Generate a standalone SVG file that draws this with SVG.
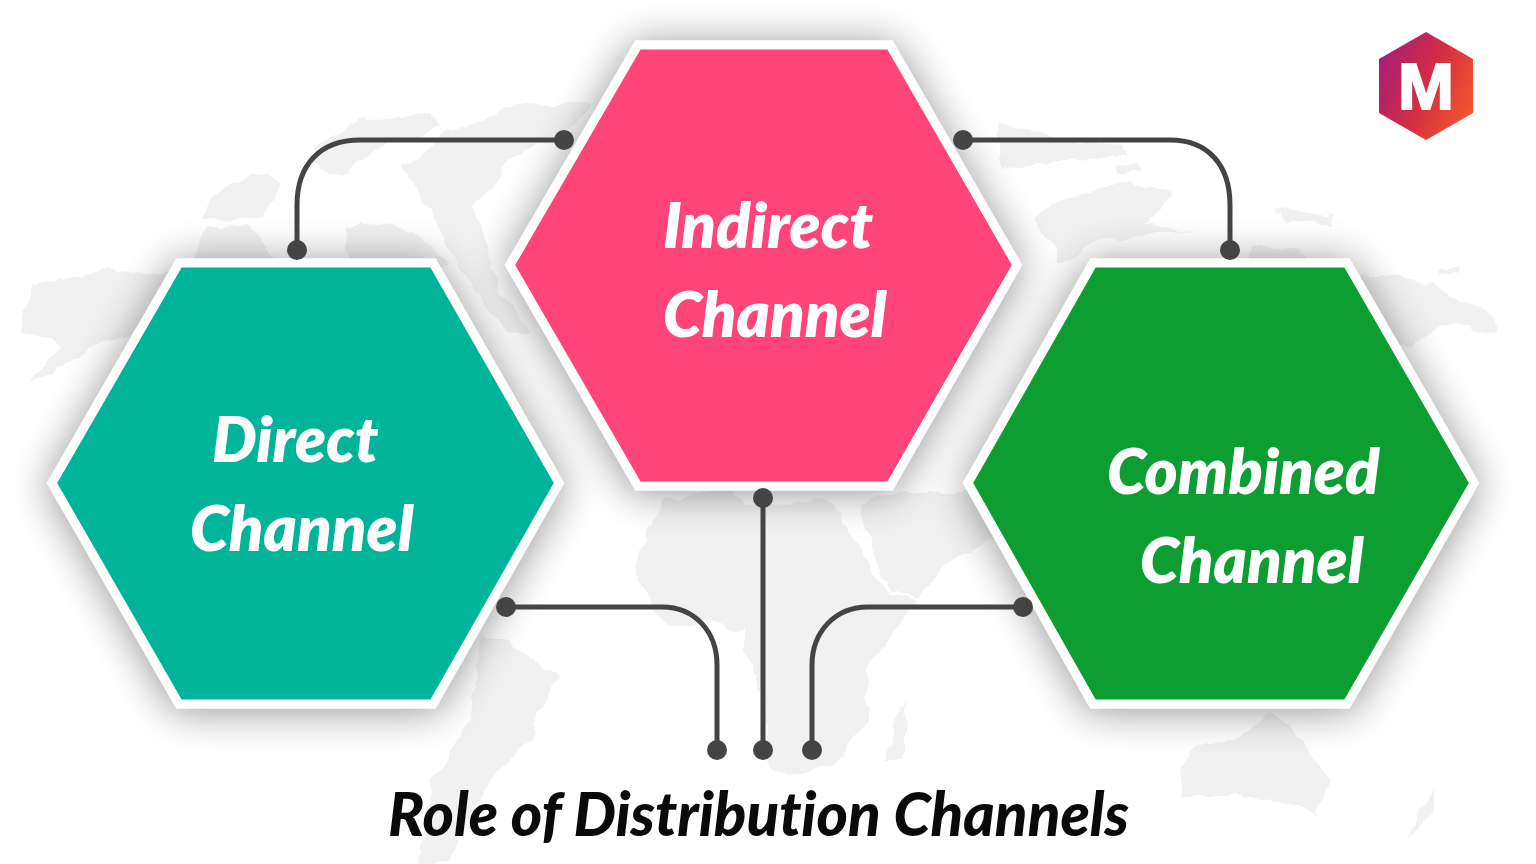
<svg xmlns="http://www.w3.org/2000/svg" width="1536" height="864" viewBox="0 0 1536 864">
<style>
.map{fill:#f1f1f1;stroke:none}
.hex{stroke:#fff;stroke-width:9;stroke-linejoin:miter;filter:url(#sh)}
.lbl{font-family:Lato,"Open Sans",sans-serif;font-weight:800;font-style:italic;font-size:63px;fill:#fff;font-variant-ligatures:none}
.ttl{font-family:Lato,"Open Sans",sans-serif;font-weight:900;font-style:italic;font-size:60px;fill:#0a0a0a;font-variant-ligatures:none}
.con{fill:none;stroke:#444;stroke-width:5}
.dot{fill:#444}
</style>
<defs>
<filter id="sh" x="-25%" y="-25%" width="150%" height="150%"><feDropShadow dx="0" dy="3" stdDeviation="20" flood-color="#000" flood-opacity="0.42"/></filter>
<filter id="rough" x="-5%" y="-5%" width="110%" height="110%"><feTurbulence type="fractalNoise" baseFrequency="0.035" numOctaves="3" seed="7" result="n"/><feDisplacementMap in="SourceGraphic" in2="n" scale="16" xChannelSelector="R" yChannelSelector="G"/></filter>
<linearGradient id="lg" x1="0" y1="0.25" x2="1" y2="0.75"><stop offset="0" stop-color="#a51f78"/><stop offset="0.5" stop-color="#d42c42"/><stop offset="1" stop-color="#f4572e"/></linearGradient>
</defs>
<rect width="1536" height="864" fill="#fff"/>
<g id="world-map" filter="url(#rough)">
<path class="map" d="M24 312L32 285L90 272L160 275L190 262L150 320L100 345L30 385L62 345L20 330Z"/>
<path class="map" d="M200 215L225 185L265 172L278 190L262 215L230 222Z"/>
<path class="map" d="M195 262L205 228L250 225L275 262Z"/>
<path class="map" d="M316 145L360 120L430 113L440 128L375 150L345 175L318 170Z"/>
<path class="map" d="M345 225L360 220L420 232L450 262L350 262Z"/>
<path class="map" d="M447 133L510 108L593 100L570 130L505 160L474 207L488 257L505 300L530 327L510 335L480 300L403 167L430 150Z"/>
<path class="map" d="M480 637L503 637L560 680L541 707L530 740L491 780L445 864L420 864L432 780L470 720Z"/>
<path class="map" d="M668 497L720 490L760 505L820 500L842 517L886 593L918 600L867 670L870 707L840 760L786 780L771 770L760 680L744 653L744 630L717 622L671 627L637 583L635 553Z"/>
<path class="map" d="M860 505L905 490L990 490L1000 540L951 553L918 598L886 588Z"/>
<path class="map" d="M909 703L901 760L886 760L893 722Z"/>
<path class="map" d="M1036 218L1065 198L1130 180L1171 193L1144 227L1192 230L1100 240L1060 262Z"/>
<path class="map" d="M1118 165L1140 163L1140 172L1118 172Z"/>
<path class="map" d="M1000 120L1060 140L1120 145L1130 158L1060 160L1000 170Z"/>
<path class="map" d="M1270 207L1329 215L1329 223L1285 222Z"/>
<path class="map" d="M1246 250L1290 245L1308 262L1246 262Z"/>
<path class="map" d="M1360 277L1411 277L1490 313L1493 332L1440 325L1411 343L1390 345Z"/>
<path class="map" d="M1440 270L1459 268L1459 274L1440 275Z"/>
<path class="map" d="M1178 770L1195 745L1240 738L1262 715L1290 725L1330 780L1318 815L1270 800L1225 795L1180 795Z"/>
<path class="map" d="M1440 785L1432 812L1412 836L1418 815Z"/>
</g>
<g id="node-direct">
<polygon class="hex" fill="#00b49a" points="179,263 433,263 559,483 433,704 179,704 52,483"/>
<text class="lbl" x="212" y="462">Direct</text>
<text class="lbl" x="190" y="551">Channel</text>
</g>
<g id="node-combined">
<polygon class="hex" fill="#0a9e33" points="1093,263 1347,263 1474,483 1347,704 1093,704 968,483"/>
<text class="lbl" x="1107" y="494">Combined</text>
<text class="lbl" x="1140" y="583">Channel</text>
</g>
<g id="node-indirect">
<polygon class="hex" fill="#ff4477" points="638,45 890,45 1017,265 890,486 638,486 510,265"/>
<text class="lbl" x="663" y="248">Indirect</text>
<text class="lbl" x="663" y="337">Channel</text>
</g>
<g id="connectors">
<path class="con" d="M564 140H360C320 140 297 165 297 205V250"/>
<path class="con" d="M963 140H1170C1208 140 1230 165 1230 205V250"/>
<path class="con" d="M763 498V750"/>
<path class="con" d="M506 607H662C695 607 717 632 717 665V750"/>
<path class="con" d="M1023 607H868C835 607 812 632 812 665V750"/>
<circle class="dot" cx="564" cy="140" r="10"/>
<circle class="dot" cx="297" cy="250" r="10"/>
<circle class="dot" cx="963" cy="140" r="10"/>
<circle class="dot" cx="1230" cy="250" r="10"/>
<circle class="dot" cx="763" cy="498" r="10"/>
<circle class="dot" cx="506" cy="607" r="10"/>
<circle class="dot" cx="1023" cy="607" r="10"/>
<circle class="dot" cx="717" cy="750" r="10"/>
<circle class="dot" cx="763" cy="750" r="10"/>
<circle class="dot" cx="812" cy="750" r="10"/>
</g>
<g id="logo">
<polygon fill="url(#lg)" points="1426,32 1473,59 1473,113 1426,140 1379,113 1379,59"/>
<text x="1398" y="109" textLength="56" lengthAdjust="spacingAndGlyphs" style="font-family:'Liberation Sans',Arial,sans-serif;font-weight:700;font-size:65px;fill:#fff;stroke:#fff;stroke-width:2">M</text>
</g>
<text id="title" class="ttl" x="388" y="836">Role of Distribution Channels</text>
</svg>
